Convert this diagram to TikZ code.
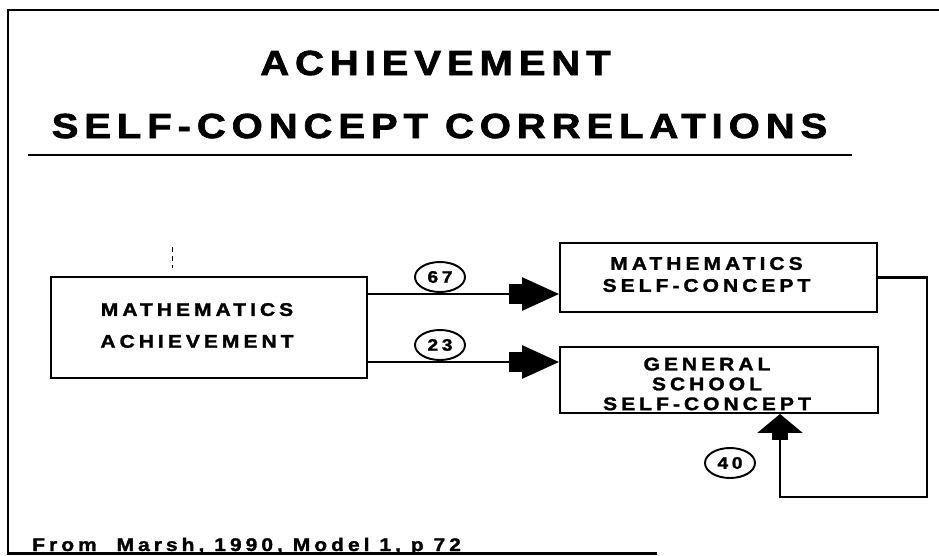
\documentclass[tikz,border=0pt]{standalone}
\usepackage{fontspec}
\setmainfont{Liberation Sans}
\newfontfamily\titlefont{Liberation Sans Bold}[LetterSpace=17,FakeStretch=1.15,FakeBold=2]
\newfontfamily\boxfont{Liberation Sans Bold}[LetterSpace=22,FakeStretch=1.15,FakeBold=1.6]
\usetikzlibrary{arrows.meta}
\usetikzlibrary{shapes.geometric}
\usetikzlibrary{positioning}

\tikzset{
  varbox/.style={rectangle,draw=black,line width=1.1pt,inner sep=0pt},
  boxtext/.style={align=center,inner sep=0pt,xshift=-0.24cm},
  corr/.style={ellipse,draw=black,line width=1.1pt,minimum width=1.0cm,minimum height=0.6cm,
    inner sep=0pt,font=\fontsize{9.5}{10}\boxfont},
  path link/.style={line width=1.6pt,
    -{Rectangle[length=0.26cm,width=0.4cm]Triangle[length=0.74cm,width=0.66cm]}},
  back link/.style={line width=1.6pt,line join=miter,
    -{Rectangle[length=0.14cm,width=0.32cm]Triangle[length=0.38cm,width=0.9cm]}}
}

\begin{document}
\begin{tikzpicture}
\useasboundingbox (0,0) rectangle (18.78,11.1);
% frame
\draw[black,line width=1.2pt] (18.78,10.9) -- (0.16,10.9) -- (0.16,0.03) -- (13.14,0.03);

% title
\node[font=\fontsize{19.8}{24}\titlefont,anchor=base] (t1) at (8.71,9.6) {ACHIEVEMENT};
\node[font=\fontsize{19.8}{24}\titlefont,anchor=base] (t2) at (8.79,8.34) {SELF-CONCEPT CORRELATIONS};
\draw[black,line width=1.7pt] (0.56,8.0) -- (17.04,8.0);

% variables
\node[varbox,minimum width=6.32cm,minimum height=2.02cm,
  label={[boxtext,name=mach-txt,yshift=0.04cm,font=\fontsize{10.4}{18.1}\boxfont]center:MATHEMATICS\\ACHIEVEMENT}] (mach) at (4.18,4.55) {};
\node[varbox,minimum width=6.34cm,minimum height=1.38cm,
  label={[boxtext,name=msc-txt,yshift=0.06cm,font=\fontsize{10.4}{12.5}\boxfont]center:MATHEMATICS\\SELF-CONCEPT}] (msc) at (14.37,5.55) {};
\node[varbox,minimum width=6.36cm,minimum height=1.32cm,
  label={[boxtext,name=gsc-txt,yshift=-0.08cm,font=\fontsize{10.4}{11.3}\boxfont]center:GENERAL\\SCHOOL\\SELF-CONCEPT}] (gsc) at (14.38,3.5) {};
\draw[black,densely dashed,thin] (3.44,6.16) -- (3.44,5.74);

% correlations
\node[corr] (r67) at (8.8,5.56) {67};
\node[corr] (r23) at (8.8,4.2) {23};
\node[corr] (r40) at (14.6,1.84) {40};

\draw[path link] ([yshift=0.67cm]mach.east) -- ([yshift=0.67cm]mach.east -| msc.west);
\draw[path link] ([yshift=-0.69cm]mach.east) -- ([yshift=-0.69cm]mach.east -| gsc.west);

\coordinate (fbR) at (18.54,1.16);
\coordinate (fbL) at (15.6,1.16);
\draw[back link] (msc.east) -| (fbR) -- (fbL) -- (fbL |- gsc.south);

% source
\node[font=\fontsize{10.4}{12}\boxfont,anchor=base west] (src) at (0.52,0.08) {From\ \ Marsh, 1990, Model 1, p 72};

\end{tikzpicture}
\end{document}
